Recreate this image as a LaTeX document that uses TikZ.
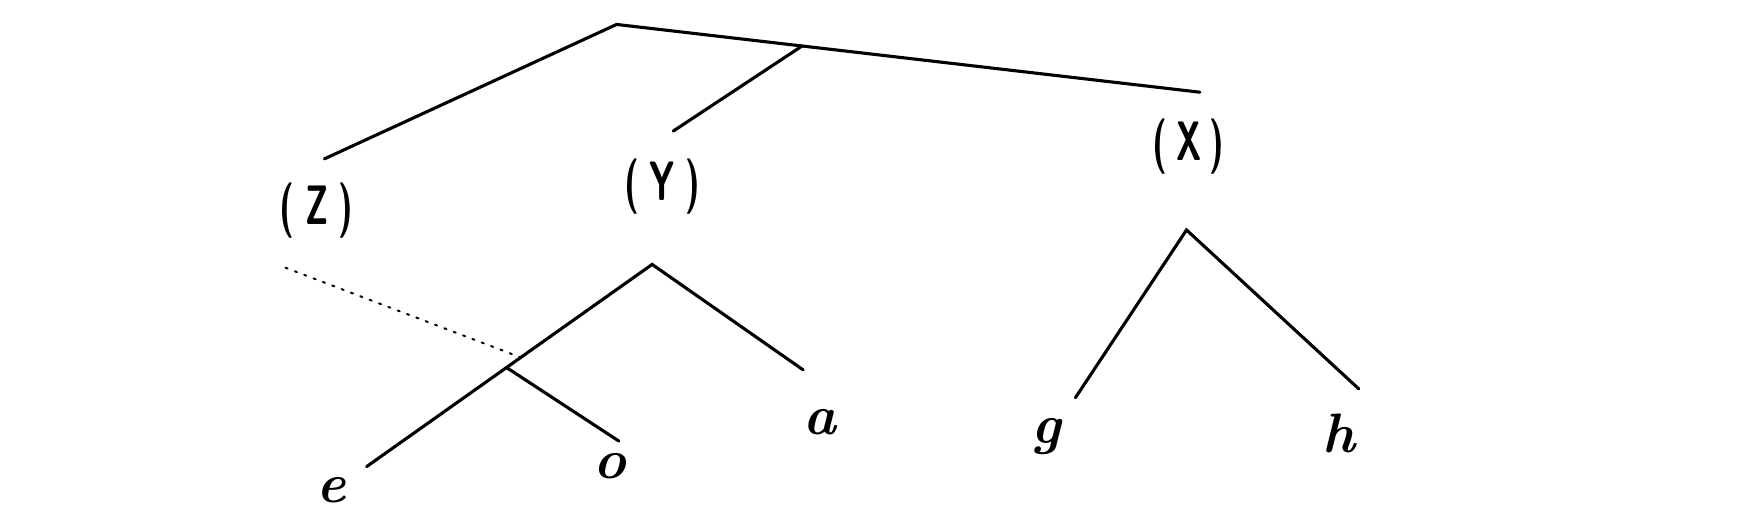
\documentclass[tikz,border=0pt]{standalone}
\usepackage{graphicx}
\usetikzlibrary{calc}
\begin{document}
\begin{tikzpicture}[x=1pt,y=-1pt,
  branch/.style={line width=2.8pt, line cap=round},
  trace/.style={line width=1.8pt, dash pattern=on 2pt off 7pt, line cap=round},
  cat/.style={font=\fontsize{50}{52}\sffamily\bfseries, inner sep=0pt},
  leaf/.style={font=\fontsize{50}{52}\selectfont\bfseries\itshape, inner sep=0pt}]
\useasboundingbox (0,0) rectangle (1568,473);
% upper tree
\coordinate (top) at (555,22);
\coordinate (xend) at (1080,83);
\coordinate (mid) at ($(top)!0.318!(xend)$);
\coordinate (zend) at (292,143);
\coordinate (yend) at (606,118);
\node[cat] (Z) at (285,190) {\scalebox{0.62}[1]{(\hspace{0.3em}Z\hspace{0.3em})}};
\node[cat] (Y) at (596,168) {\scalebox{0.62}[1]{(\hspace{0.3em}Y\hspace{0.3em})}};
\node[cat] (X) at (1070,132) {\scalebox{0.62}[1]{(\hspace{0.25em}X\hspace{0.25em})}};
\draw[branch] (zend) -- (top) -- (xend);
\draw[branch] (mid) -- (yend);
% Y subtree
\coordinate (ytop) at (587,238);
\coordinate (eend) at (330,420);
\coordinate (ojn) at ($(ytop)!0.51!(eend)$);
\coordinate (oend) at (557,397);
\coordinate (aend) at (723,333);
\coordinate (dstart) at (257,241);
\coordinate (dend) at ($(ytop)!0.46!(eend)$);
\node[leaf] (e) at (298,441) {e};
\node[leaf] (o) at (549,420) {o};
\node[leaf] (a) at (738,380) {a};
\draw[branch] (eend) -- (ytop) -- (aend);
\draw[branch] (ojn) -- (oend);
\draw[trace] (dstart) -- (dend);
% X subtree
\coordinate (xtop) at (1068,207);
\coordinate (gend) at (968,358);
\coordinate (hend) at (1223,350);
\node[leaf] (g) at (942,393) {g};
\node[leaf] (h) at (1205,390) {h};
\draw[branch] (gend) -- (xtop) -- (hend);
\end{tikzpicture}
\end{document}
